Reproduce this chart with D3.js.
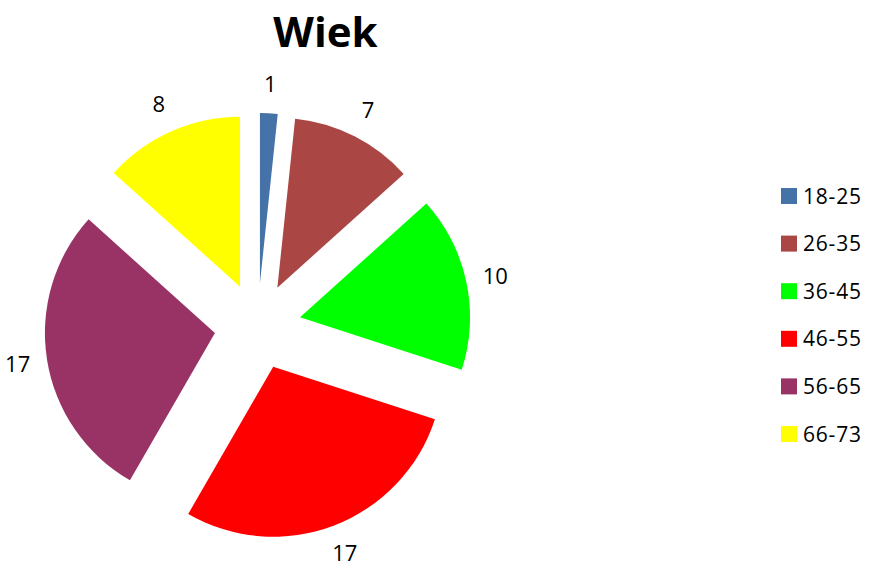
<!DOCTYPE html>
<html>
<head>
<meta charset="utf-8">
<script src="https://cdn.jsdelivr.net/npm/d3@7"></script>
<style>
  body { margin: 0; background: #fff; }
  text { font-family: "Open Sans", sans-serif; fill: #000; }
</style>
</head>
<body>
<script>
var categories = ["18-25", "26-35", "36-45", "46-55", "56-65", "66-73"];
var values = [1, 7, 10, 17, 17, 8];
var colors = ["#4572A7", "#AA4643", "#00FF00", "#FF0000", "#993366", "#FFFF00"];
var title = "Wiek";

var width = 871,
height = 566,
cx = 257.7,
cy = 326.3,
radius = 170,
explode = 43.3,    // 25% explosion
labelRadius = 243;

var svg = d3.select("body").append("svg")
  .attr("width", width)
  .attr("height", height);

svg.append("text")
  .attr("x", 325.5)
  .attr("y", 47)
  .attr("text-anchor", "middle")
  .style("font-size", "42px")
  .style("font-weight", "bold")
  .text(title);

var pie = d3.pie().sort(null).value(function(d) { return d; });
var arcs = pie(values);
var arc = d3.arc().innerRadius(0).outerRadius(radius);

var mid = function(d) { return (d.startAngle + d.endAngle) / 2; };

var g = svg.append("g").attr("transform", "translate(" + cx + "," + cy + ")");

g.selectAll("path")
  .data(arcs)
  .enter()
  .append("path")
  .attr("d", arc)
  .attr("fill", function(d, i) { return colors[i]; })
  .attr("transform", function(d) {
    var a = mid(d);
    return "translate(" + (Math.sin(a) * explode) + "," + (-Math.cos(a) * explode) + ")";
  });

g.selectAll("text.lbl")
  .data(arcs)
  .enter()
  .append("text")
  .attr("class", "lbl")
  .attr("x", function(d) { return Math.sin(mid(d)) * labelRadius; })
  .attr("y", function(d) { return -Math.cos(mid(d)) * labelRadius; })
  .attr("dy", "0.36em")
  .attr("text-anchor", "middle")
  .style("font-size", "22px")
  .text(function(d) { return d.data; });

// legend
var legendY = d3.scalePoint().domain(categories).range([196, 434]);

var leg = svg.selectAll("g.leg")
  .data(categories)
  .enter()
  .append("g")
  .attr("class", "leg")
  .attr("transform", function(d) { return "translate(781," + legendY(d) + ")"; });

leg.append("rect")
  .attr("x", 0)
  .attr("y", -8)
  .attr("width", 16)
  .attr("height", 16)
  .attr("fill", function(d, i) { return colors[i]; });

leg.append("text")
  .attr("x", 22)
  .attr("y", 7.5)
  .style("font-size", "21px")
  .style("letter-spacing", "0.8px")
  .text(function(d) { return d; });
</script>
</body>
</html>
